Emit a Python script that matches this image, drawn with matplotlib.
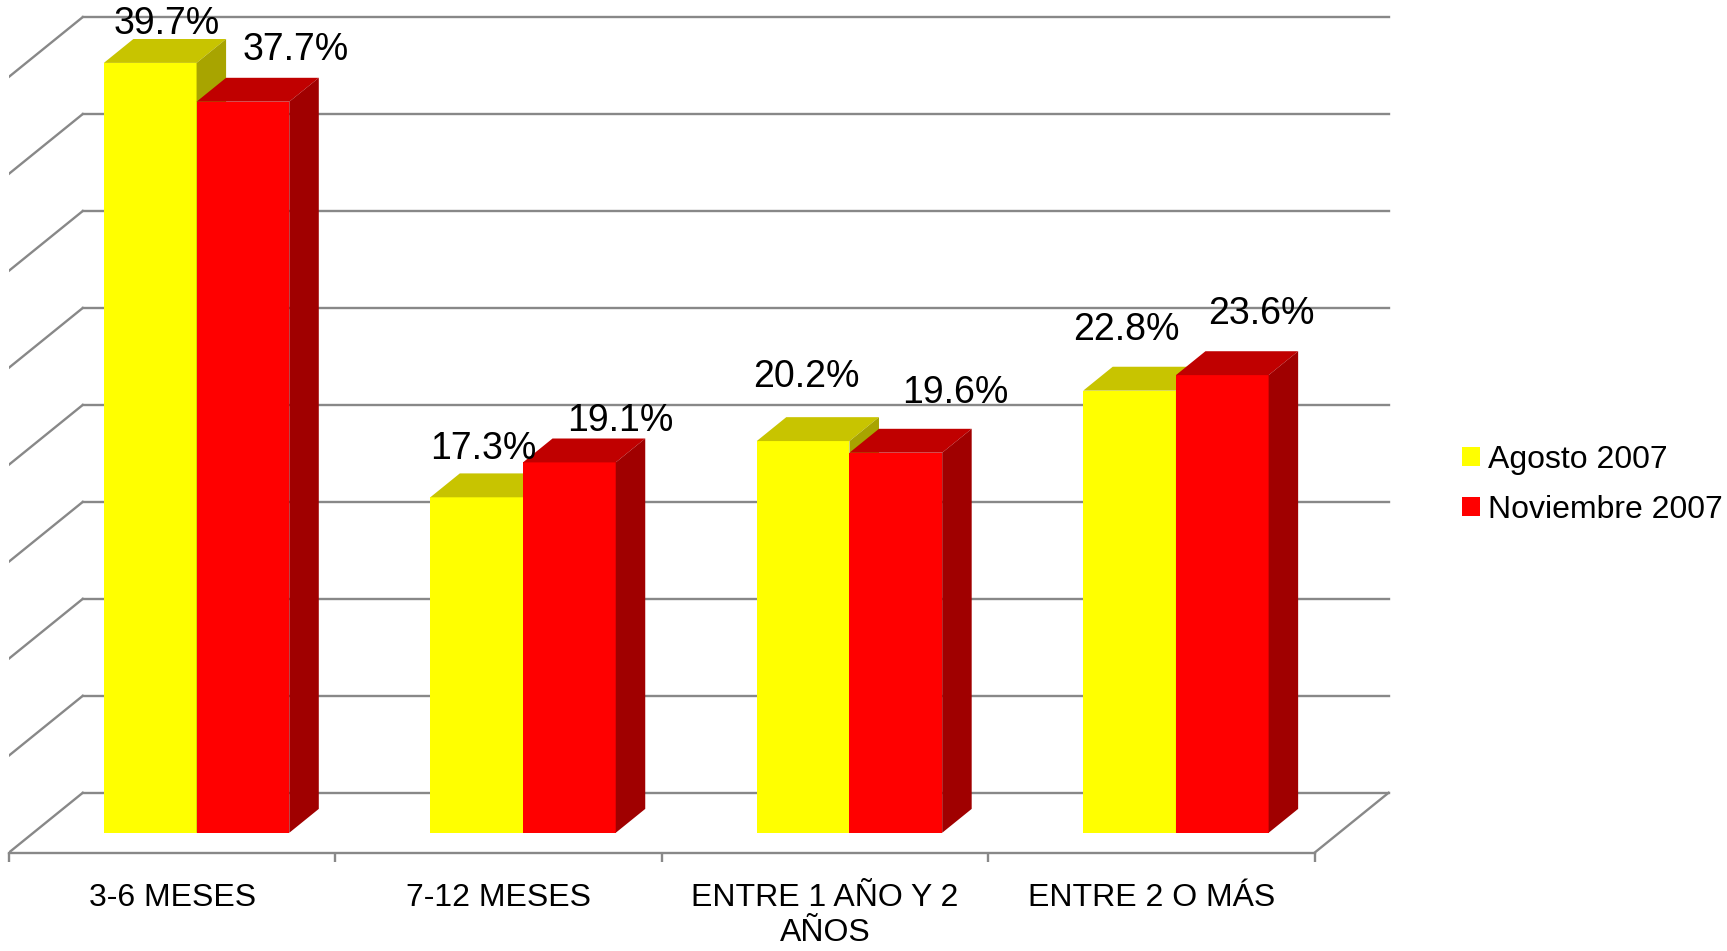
import matplotlib.pyplot as plt

# datos
categorias = ["3-6 MESES", "7-12 MESES", "ENTRE 1 AÑO Y 2\nAÑOS", "ENTRE 2 O MÁS"]
agosto = [39.7, 17.3, 20.2, 22.8]
noviembre = [37.7, 19.1, 19.6, 23.6]
series = ["Agosto 2007", "Noviembre 2007"]

# colores: frente, arriba, lado
col_ago = ("#FFFF00", "#C8C400", "#A8A400")
col_nov = ("#FF0000", "#C00000", "#A00000")
gris = "#888888"

# profundidad del "3D" en unidades de datos
DX, DY = 0.226, 3.08
F0, FD = 0.33, 0.40      # inicio y grosor de la barra en profundidad
ANCHO = 0.284

# desplazamiento de etiquetas (puntos)
off_ago = [(12, 28), (5, 35), (2, 46), (-2, 44)]
off_nov = [(38, 37), (37, 30), (43, 43), (28, 44)]

plt.rcParams['font.family'] = ['Liberation Sans', 'DejaVu Sans']

fig = plt.figure(figsize=(17.27, 9.51), dpi=100)
ax = fig.add_axes([9 / 1727, 1 - 852.5 / 951, (1400 - 9) / 1727, 852.5 / 951])
ax.set_xlim(-0.5, 3.761)
ax.set_ylim(0, 43.96)
for s in ax.spines.values():
    s.set_visible(False)


def barra3d(x0, h, cols, label=None):
    ox, oy = F0 * DX, F0 * DY
    bx, by = FD * DX, FD * DY
    b = ax.bar(x0 + ox, h, width=ANCHO, bottom=oy, align='edge',
               color=cols[0], zorder=3, label=label)
    ax.fill([x0 + ox, x0 + ox + ANCHO, x0 + ox + ANCHO + bx, x0 + ox + bx],
            [oy + h, oy + h, oy + h + by, oy + h + by], color=cols[1], zorder=3, lw=0)
    ax.fill([x0 + ox + ANCHO, x0 + ox + ANCHO + bx, x0 + ox + ANCHO + bx, x0 + ox + ANCHO],
            [oy, oy + by, oy + h + by, oy + h], color=cols[2], zorder=3, lw=0)
    return b, x0 + ox + ANCHO / 2, oy + h


# rejilla: pared del fondo y pared izquierda
for v in range(0, 45, 5):
    ax.plot([-0.5 + DX, 3.5 + DX], [v + DY, v + DY], color=gris, lw=1.7, zorder=1)
    ax.plot([-0.5, -0.5 + DX], [v, v + DY], color=gris, lw=1.7, zorder=1)
# suelo
ax.plot([-0.5, 3.5], [0, 0], color=gris, lw=1.7, zorder=1, clip_on=False)
ax.plot([3.5, 3.5 + DX], [0, DY], color=gris, lw=1.7, zorder=1)

handles = []
for i in range(len(categorias)):
    b1, cx1, top1 = barra3d(i - ANCHO, agosto[i], col_ago, series[0] if i == 0 else None)
    b2, cx2, top2 = barra3d(i, noviembre[i], col_nov, series[1] if i == 0 else None)
    if i == 0:
        handles = [b1, b2]
    ax.annotate("%.1f%%" % agosto[i], (cx1, top1), xytext=off_ago[i],
                textcoords='offset points', ha='center', va='center', fontsize=27,
                annotation_clip=False)
    ax.annotate("%.1f%%" % noviembre[i], (cx2, top2), xytext=off_nov[i],
                textcoords='offset points', ha='center', va='center', fontsize=27,
                annotation_clip=False)
    ax.annotate(categorias[i], (i, 0), xycoords=('data', 'axes fraction'),
                xytext=(0, -22), textcoords='offset points', ha='center', va='top',
                fontsize=23, linespacing=1.2, annotation_clip=False)

ax.set_yticks([])
ax.set_xticks([-0.5, 0.5, 1.5, 2.5, 3.5])
ax.set_xticklabels([])
ax.tick_params(axis='x', length=6.5, width=1.7, color=gris, direction='out')

fig.legend(handles, series, loc='center left', bbox_to_anchor=(1462 / 1727, 1 - 485 / 951),
           frameon=False, fontsize=23, handlelength=0.55, handleheight=0.55,
           handletextpad=0.25, borderpad=0, borderaxespad=0, labelspacing=0.62)

fig.savefig("out.png", dpi=100)
